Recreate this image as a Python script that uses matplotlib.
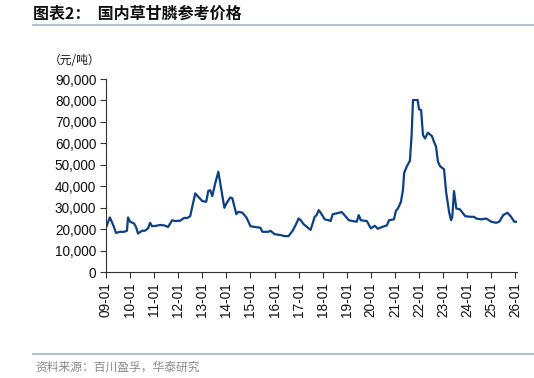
import numpy as np
import pandas as pd
import matplotlib
matplotlib.use("Agg")
import matplotlib.pyplot as plt
import matplotlib.dates as mdates
from matplotlib.ticker import FuncFormatter

plt.rcParams['font.family'] = ['Liberation Sans', 'Noto Sans CJK SC', 'DejaVu Sans']

# glyphosate reference price, yuan/tonne
dates = [
    "2009-01-05", "2009-03-01", "2009-05-01", "2009-06-01", "2009-08-01", "2009-10-01",
    "2009-11-15", "2009-12-01", "2010-01-01", "2010-03-01", "2010-04-01", "2010-05-01",
    "2010-07-01", "2010-08-15", "2010-10-01", "2010-11-01", "2010-12-01", "2011-02-01",
    "2011-04-01", "2011-06-01", "2011-08-01", "2011-10-01", "2011-11-15", "2012-02-01",
    "2012-04-01", "2012-05-15", "2012-07-01", "2012-08-01", "2012-09-15", "2012-11-01",
    "2013-01-01", "2013-03-01", "2013-04-01", "2013-05-01", "2013-06-01", "2013-07-15",
    "2013-09-01", "2013-10-01", "2013-12-01", "2014-01-01", "2014-03-01", "2014-04-01",
    "2014-06-01", "2014-07-01", "2014-09-01", "2014-11-01", "2015-01-01", "2015-03-01",
    "2015-06-01", "2015-07-01", "2015-10-01", "2015-11-01", "2016-01-01", "2016-04-01",
    "2016-06-01", "2016-08-01", "2016-10-01", "2016-11-15", "2017-01-01", "2017-02-01",
    "2017-03-15", "2017-06-01", "2017-07-01", "2017-09-01", "2017-10-01", "2017-11-01",
    "2017-12-01", "2018-02-01", "2018-04-01", "2018-05-01", "2018-06-01", "2018-08-01",
    "2018-10-15", "2018-11-15", "2019-02-01", "2019-04-01", "2019-06-01", "2019-07-01",
    "2019-08-01", "2019-11-01", "2020-01-01", "2020-02-01", "2020-03-01", "2020-04-15",
    "2020-06-15", "2020-09-01", "2020-10-01", "2020-12-15", "2021-01-15", "2021-02-15",
    "2021-04-01", "2021-05-01", "2021-05-20", "2021-07-01", "2021-08-15", "2021-09-10",
    "2021-10-01", "2021-12-10", "2022-01-01", "2022-02-01", "2022-03-01", "2022-04-01",
    "2022-05-15", "2022-07-15", "2022-08-15", "2022-09-15", "2022-10-15", "2022-11-15",
    "2023-01-15", "2023-02-15", "2023-04-01", "2023-05-01", "2023-05-20", "2023-06-15",
    "2023-07-20", "2023-09-15", "2023-12-01", "2024-02-15", "2024-04-15", "2024-05-15",
    "2024-08-01", "2024-10-15", "2025-01-01", "2025-03-15", "2025-05-01", "2025-07-01",
    "2025-09-01", "2025-10-20", "2025-12-15", "2026-01-20",
]
prices = [
    21100, 25500, 21100, 18300, 18800, 18800,
    19300, 25500, 23500, 22700, 21100, 18000,
    19300, 19300, 20400, 23000, 21400, 21600,
    22000, 21800, 21100, 24200, 23800, 24000,
    25300, 25200, 26100, 30500, 36700, 35100,
    33100, 32800, 37800, 38200, 35400, 41300,
    46800, 41300, 30000, 32000, 34800, 34400,
    27000, 28100, 27700, 25500, 21400, 21100,
    20700, 18800, 18800, 19300, 17700, 17300,
    16800, 16800, 19300, 21900, 25000, 24200,
    22400, 20400, 19700, 25800, 26600, 28900,
    27700, 24600, 24200, 23800, 27000, 27400,
    28000, 27000, 24200, 23800, 23500, 26600,
    24200, 23800, 20400, 21000, 21600, 20200,
    21000, 21800, 24200, 24600, 28600, 29700,
    32800, 38200, 46300, 49400, 51900, 63900,
    80200, 80200, 75900, 75500, 63900, 62300,
    65000, 63400, 60800, 58400, 51400, 49400,
    47900, 37400, 28100, 24200, 25800, 37800,
    29700, 29200, 26100, 25800, 25800, 25000,
    24600, 25000, 23500, 23000, 23500, 26600,
    27700, 26100, 23500, 23500,
]
tick_years = list(range(2009, 2027))

x = pd.to_datetime(dates)

fig = plt.figure(figsize=(5.34, 3.78), dpi=100)
ax = fig.add_axes([0.1985, 0.28, 0.77, 0.511])

ax.plot(x, prices, color='#0B3F86', linewidth=1.6, solid_joinstyle='round')

ax.set_ylim(0, 90000)
ax.set_yticks(np.arange(0, 90001, 10000))
ax.yaxis.set_major_formatter(FuncFormatter(lambda v, p: f"{int(v):,}"))

ax.set_xlim(pd.Timestamp("2009-01-01"), pd.Timestamp("2026-01-28"))
ax.set_xticks([pd.Timestamp(f"{y}-01-01") for y in tick_years])
ax.xaxis.set_major_formatter(mdates.DateFormatter("%y-%m"))
for lab in ax.get_xticklabels():
    lab.set_rotation(90)

ax.spines['top'].set_visible(False)
ax.spines['right'].set_visible(False)
for s in ['left', 'bottom']:
    ax.spines[s].set_color('#333333')
    ax.spines[s].set_linewidth(0.8)
ax.tick_params(axis='both', direction='out', length=4, width=0.8, color='#333333',
               labelsize=9.8, labelcolor='#111111', pad=3)

# header / footer
fig.text(33 / 534, 1 - 14 / 378, "图表2：  国内草甘膦参考价格", fontsize=11.5, fontweight='bold',
         family=['Noto Sans CJK SC'], va='center', ha='left', color='#111111')
fig.add_artist(plt.Line2D([33 / 534, 1], [1 - 25 / 378, 1 - 25 / 378], color='#9DB5CF', linewidth=1.2))
fig.text(49 / 534, 1 - 60 / 378, "（元/吨）", fontsize=8.5, family=['Noto Sans CJK SC'],
         va='center', ha='left', color='#111111')
fig.add_artist(plt.Line2D([33 / 534, 1], [1 - 354 / 378, 1 - 354 / 378], color='#9DB5CF', linewidth=1.2))
fig.text(35 / 534, 1 - 367 / 378, "资料来源：百川盈孚，华泰研究", fontsize=8.5, family=['Noto Sans CJK SC'],
         va='center', ha='left', color='#8A8A8A')

fig.savefig("out.png", dpi=100)
